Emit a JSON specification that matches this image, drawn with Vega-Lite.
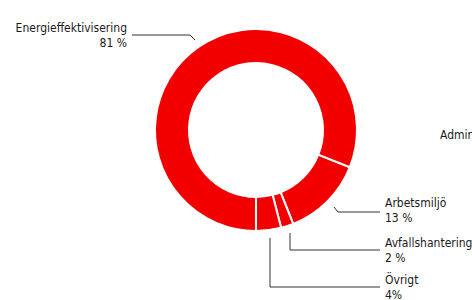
{
  "$schema": "https://vega.github.io/schema/vega-lite/v6.json",
  "width": 472,
  "height": 300,
  "autosize": "none",
  "padding": 0,
  "background": "white",
  "config": {"view": {"stroke": null}},
  "datasets": {
    "slices": [
      {"kategori": "Arbetsmiljö", "andel": 13, "ord": 1, "cx": 0, "cy": 0},
      {"kategori": "Avfallshantering", "andel": 2, "ord": 2, "cx": 0, "cy": 0},
      {"kategori": "Övrigt", "andel": 4, "ord": 3, "cx": 0, "cy": 0},
      {"kategori": "Energieffektivisering", "andel": 81, "ord": 4, "cx": 0, "cy": 0}
    ],
    "leaders": [
      {"id": "Energieffektivisering", "seq": 1, "x": -1.24, "y": 0.95},
      {"id": "Energieffektivisering", "seq": 2, "x": -0.66, "y": 0.95},
      {"id": "Energieffektivisering", "seq": 3, "x": -0.61, "y": 0.90},
      {"id": "Arbetsmiljö", "seq": 1, "x": 0.78, "y": -0.77},
      {"id": "Arbetsmiljö", "seq": 2, "x": 0.82, "y": -0.82},
      {"id": "Arbetsmiljö", "seq": 3, "x": 1.24, "y": -0.82},
      {"id": "Avfallshantering", "seq": 1, "x": 0.34, "y": -1.03},
      {"id": "Avfallshantering", "seq": 2, "x": 0.34, "y": -1.20},
      {"id": "Avfallshantering", "seq": 3, "x": 1.24, "y": -1.20},
      {"id": "Övrigt", "seq": 1, "x": 0.14, "y": -1.08},
      {"id": "Övrigt", "seq": 2, "x": 0.14, "y": -1.57},
      {"id": "Övrigt", "seq": 3, "x": 1.24, "y": -1.57}
    ],
    "labels": [
      {"text": ["Energieffektivisering", "81 %"], "side": "left", "x": -1.29, "y": 0.983},
      {"text": ["Arbetsmiljö", "13 %"], "side": "right", "x": 1.29, "y": -0.77},
      {"text": ["Avfallshantering", "2 %"], "side": "right", "x": 1.29, "y": -1.17},
      {"text": ["Övrigt", "4%"], "side": "right", "x": 1.29, "y": -1.54},
      {"text": ["Administration"], "side": "right", "x": 1.84, "y": -0.09}
    ]
  },
  "resolve": {"scale": {"x": "shared", "y": "shared"}},
  "layer": [
    {
      "data": {"name": "slices"},
      "mark": {"type": "arc", "outerRadius": 101, "innerRadius": 67, "stroke": "white", "strokeWidth": 2},
      "encoding": {
        "x": {"field": "cx", "type": "quantitative", "scale": {"domain": [-2.56, 2.16], "nice": false, "zero": false}, "axis": null},
        "y": {"field": "cy", "type": "quantitative", "scale": {"domain": [-1.7, 1.3], "nice": false, "zero": false}, "axis": null},
        "theta": {"field": "andel", "type": "quantitative", "stack": true, "scale": {"range": [1.948, 8.2312]}},
        "order": {"field": "ord", "type": "quantitative"},
        "color": {"value": "#f20000"}
      }
    },
    {
      "data": {"name": "leaders"},
      "mark": {"type": "line", "color": "#333333", "strokeWidth": 1},
      "encoding": {
        "x": {"field": "x", "type": "quantitative", "axis": null},
        "y": {"field": "y", "type": "quantitative", "axis": null},
        "detail": {"field": "id"},
        "order": {"field": "seq", "type": "quantitative"}
      }
    },
    {
      "data": {"name": "labels"},
      "transform": [{"filter": "datum.side === 'left'"}],
      "mark": {"type": "text", "align": "right", "baseline": "alphabetic", "font": "DejaVu Sans Condensed", "fontSize": 12, "lineHeight": 15, "color": "#1a1a1a"},
      "encoding": {
        "x": {"field": "x", "type": "quantitative", "axis": null},
        "y": {"field": "y", "type": "quantitative", "axis": null},
        "text": {"field": "text"}
      }
    },
    {
      "data": {"name": "labels"},
      "transform": [{"filter": "datum.side === 'right'"}],
      "mark": {"type": "text", "align": "left", "baseline": "alphabetic", "font": "DejaVu Sans Condensed", "fontSize": 12, "lineHeight": 15, "color": "#1a1a1a"},
      "encoding": {
        "x": {"field": "x", "type": "quantitative", "axis": null},
        "y": {"field": "y", "type": "quantitative", "axis": null},
        "text": {"field": "text"}
      }
    }
  ]
}
